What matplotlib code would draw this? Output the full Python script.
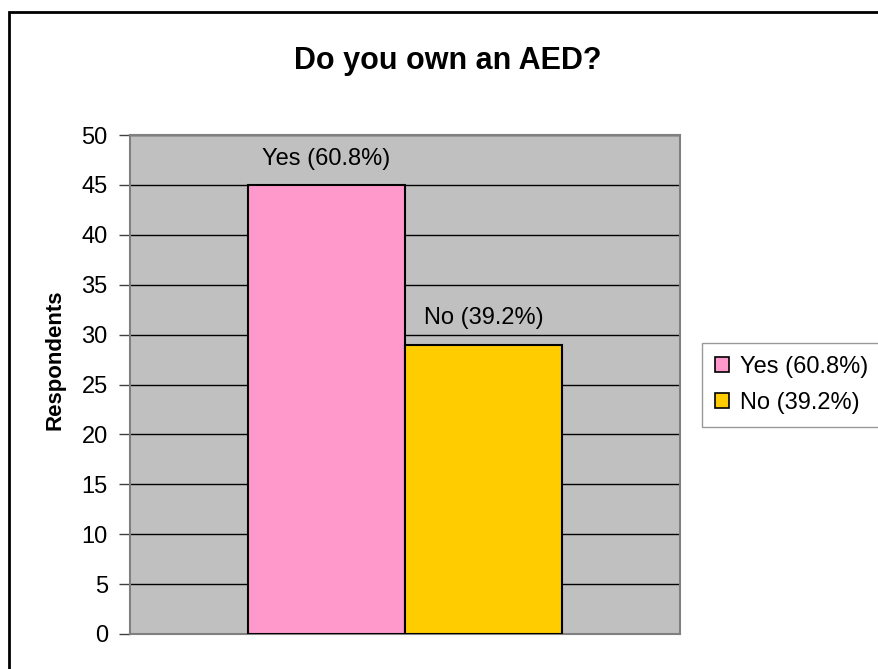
import matplotlib
matplotlib.use('Agg')
import matplotlib.pyplot as plt
from matplotlib.patches import Rectangle

plt.rcParams['font.family'] = ['Liberation Sans', 'DejaVu Sans']

# survey answers
answers = ['Yes', 'No']
respondents = [45, 29]
percent = [60.8, 39.2]
labels = [f'{a} ({p}%)' for a, p in zip(answers, percent)]
colors = ['#FF99CC', '#FFCC00']
yticks = list(range(0, 55, 5))

W, H = 879, 669
fig = plt.figure(figsize=(W / 100, H / 100), dpi=100)

# chart border, runs off the right and bottom edge
fig.patches.append(Rectangle((9 / W, -0.1), 1.2, 1 - 12 / H + 0.1,
                             transform=fig.transFigure, fill=False,
                             edgecolor='black', linewidth=2))

ax = fig.add_axes([130 / W, (H - 634) / H, 550 / W, 499 / H])
ax.set_facecolor('#C0C0C0')
for s in ax.spines.values():
    s.set_color('#808080')
    s.set_linewidth(1.5)

bar_w = 0.2855
xs = [-bar_w / 2, bar_w / 2]
bars = ax.bar(xs, respondents, width=bar_w, color=colors, edgecolor='black',
              linewidth=1.5, zorder=3)
for b, lab in zip(bars, labels):
    ax.annotate(lab, (b.get_x() + b.get_width() / 2, b.get_height()),
                xytext=(0, 11), textcoords='offset points', ha='center',
                va='bottom', fontsize=17, zorder=4)

ax.set_xlim(-0.5, 0.5)
ax.set_ylim(0, 50)
ax.set_yticks(yticks)
ax.set_xticks([])
ax.yaxis.grid(True, color='black', linewidth=1)
ax.set_axisbelow(True)
ax.tick_params(axis='y', direction='out', length=8, width=1, color='#404040',
               labelsize=17, pad=8)

fig.text(55 / W, 1 - 360 / H, 'Respondents', rotation=90, ha='center',
         va='center', fontsize=16, fontweight='bold')
fig.text(448 / W, 1 - 61 / H, 'Do you own an AED?', ha='center', va='center',
         fontsize=22, fontweight='bold')

handles = [Rectangle((0, 0), 1, 1, facecolor=c, edgecolor='black', linewidth=1.2)
           for c in colors]
fig.legend(handles, labels, loc='upper left',
           bbox_to_anchor=(702 / W, 1 - 343 / H), bbox_transform=fig.transFigure,
           fontsize=17, frameon=True, fancybox=False, edgecolor='#808080',
           borderaxespad=0, handlelength=0.6, handleheight=0.6,
           handletextpad=0.45, borderpad=0.55, labelspacing=0.6)

fig.savefig('out.png', dpi=100, facecolor='white')
